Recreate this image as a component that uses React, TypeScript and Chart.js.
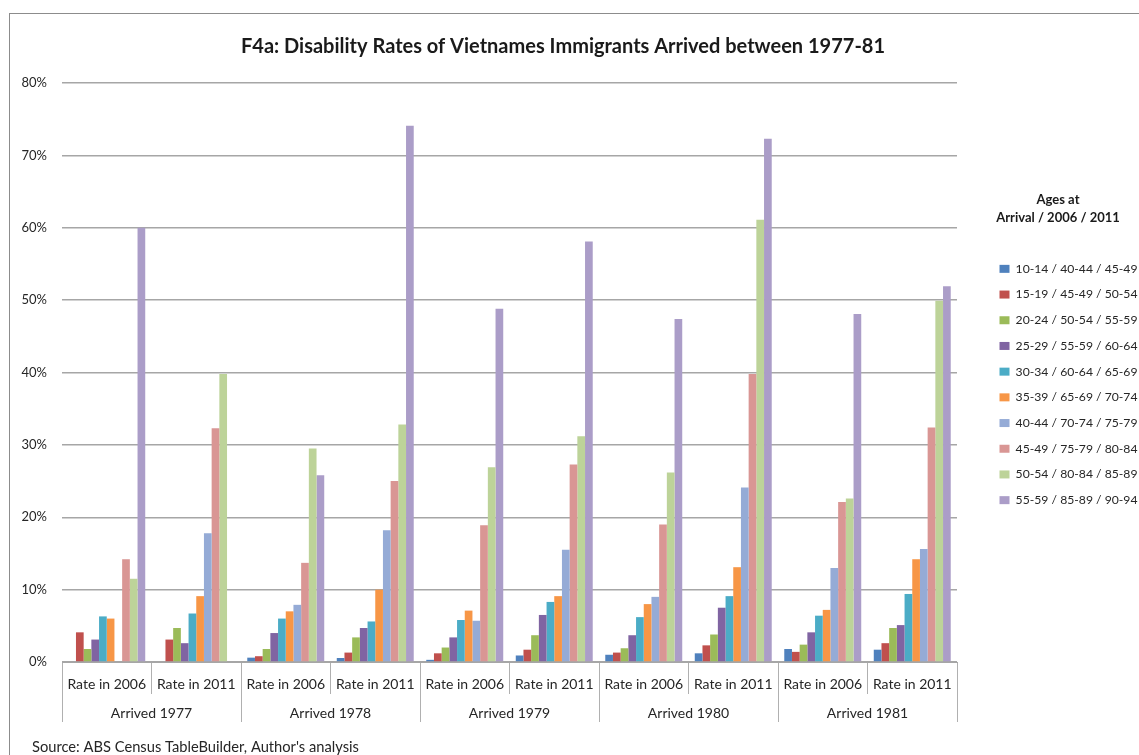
import { useEffect, useRef } from 'react';
import { Chart, registerables } from 'chart.js';

Chart.register(...registerables);
const FONT = 'Lato, "Liberation Sans", sans-serif';
Chart.defaults.font.family = FONT;
Chart.defaults.color = '#262626';

const chartTitle = 'F4a: Disability Rates of Vietnames Immigrants Arrived between 1977-81';
const legendTitle = ['Ages at', 'Arrival / 2006 / 2011'];
const sourceNote = "Source: ABS Census TableBuilder, Author's analysis";

const rateLabels = [
  'Rate in 2006', 'Rate in 2011',
  'Rate in 2006', 'Rate in 2011',
  'Rate in 2006', 'Rate in 2011',
  'Rate in 2006', 'Rate in 2011',
  'Rate in 2006', 'Rate in 2011',
];
const arrivalGroups = ['Arrived 1977', 'Arrived 1978', 'Arrived 1979', 'Arrived 1980', 'Arrived 1981'];

const ageGroups = [
  '10-14 / 40-44 / 45-49',
  '15-19 / 45-49 / 50-54',
  '20-24 / 50-54 / 55-59',
  '25-29 / 55-59 / 60-64',
  '30-34 / 60-64 / 65-69',
  '35-39 / 65-69 / 70-74',
  '40-44 / 70-74 / 75-79',
  '45-49 / 75-79 / 80-84',
  '50-54 / 80-84 / 85-89',
  '55-59 / 85-89 / 90-94',
];

// Disability rate (%) per category (1977 2006, 1977 2011, 1978 2006, ...)
const age10to14 = [0, 0, 0.6, 0.55, 0.3, 0.9, 1.0, 1.2, 1.8, 1.7];
const age15to19 = [4.1, 3.1, 0.8, 1.3, 1.2, 1.7, 1.3, 2.3, 1.4, 2.6];
const age20to24 = [1.8, 4.7, 1.8, 3.4, 2.0, 3.7, 1.9, 3.8, 2.4, 4.7];
const age25to29 = [3.1, 2.6, 4.0, 4.7, 3.4, 6.5, 3.7, 7.5, 4.1, 5.1];
const age30to34 = [6.3, 6.7, 6.0, 5.6, 5.8, 8.3, 6.2, 9.1, 6.4, 9.4];
const age35to39 = [6.0, 9.1, 7.0, 10.0, 7.1, 9.1, 8.0, 13.1, 7.2, 14.2];
const age40to44 = [0, 17.8, 7.9, 18.2, 5.7, 15.5, 9.0, 24.1, 13.0, 15.6];
const age45to49 = [14.2, 32.3, 13.7, 25.0, 18.9, 27.3, 19.0, 39.8, 22.1, 32.4];
const age50to54 = [11.5, 39.8, 29.5, 32.8, 26.9, 31.2, 26.2, 61.1, 22.6, 49.9];
const age55to59 = [60.0, 0, 25.8, 74.1, 48.8, 58.1, 47.4, 72.3, 48.1, 51.9];

const seriesValues = [
  age10to14, age15to19, age20to24, age25to29, age30to34,
  age35to39, age40to44, age45to49, age50to54, age55to59,
];

const seriesColors = [
  '#4F81BD', '#C0504D', '#9BBB59', '#8064A2', '#4BACC6',
  '#F79646', '#95ABD6', '#D99694', '#BDD399', '#AB9DC8',
];

const yMin = 0;
const yMax = 80;
const yStep = 10;

const textPlugin = {
  id: 'chartTexts',
  afterDraw(chart: any) {
    const ctx = chart.ctx;
    ctx.save();
    // main title
    ctx.font = `bold 20px ${FONT}`;
    ctx.fillStyle = '#1a1a1a';
    ctx.textAlign = 'center';
    ctx.textBaseline = 'middle';
    ctx.fillText(chartTitle, 553, 33);
    // legend title
    ctx.font = `bold 13px ${FONT}`;
    ctx.fillText(legendTitle[0], 1048, 186);
    ctx.fillText(legendTitle[1], 1048, 204);
    // source note
    ctx.font = `14.7px ${FONT}`;
    ctx.fillStyle = '#262626';
    ctx.textAlign = 'left';
    ctx.fillText(sourceNote, 22, chart.height - 8);
    ctx.restore();
  },
};

export default function App() {
  const canvasRef = useRef<HTMLCanvasElement | null>(null);

  useEffect(() => {
    if (!canvasRef.current) return;
    const chart = new Chart(canvasRef.current, {
      type: 'bar',
      data: {
        labels: rateLabels,
        datasets: seriesValues.map((values, i) => ({
          label: ageGroups[i],
          data: values,
          backgroundColor: seriesColors[i],
          borderWidth: 0,
          barPercentage: 1,
          categoryPercentage: 0.86,
        })),
      },
      options: {
        animation: false,
        responsive: true,
        maintainAspectRatio: false,
        layout: { padding: { top: 69, left: 0, right: 0, bottom: 33 } },
        plugins: {
          tooltip: { enabled: false },
          title: { display: false },
          legend: {
            display: true,
            position: 'right',
            align: 'start',
            maxWidth: 154,
            title: {
              display: true,
              text: ' ',
              font: { size: 13, lineHeight: 1.2 },
              padding: { top: 0, bottom: 150.65 },
            },
            labels: {
              boxWidth: 10,
              boxHeight: 8,
              padding: 13.5,
              color: '#262626',
              font: { size: 12.2 },
            },
          },
        },
        scales: {
          x: {
            type: 'category',
            offset: true,
            grid: {
              offset: true,
              drawOnChartArea: false,
              drawTicks: true,
              tickLength: 32,
              color: '#b0b0b0',
            },
            border: { display: true, color: '#a6a6a6' },
            ticks: {
              autoSkip: false,
              maxRotation: 0,
              padding: -18.4,
              font: { size: 14 },
              color: '#262626',
            },
            afterFit: (s: any) => { s.height = 32; },
          },
          x2: {
            type: 'category',
            position: 'bottom',
            labels: arrivalGroups,
            offset: true,
            grid: {
              offset: true,
              drawOnChartArea: false,
              drawTicks: true,
              tickLength: 28,
              color: '#b0b0b0',
            },
            border: { display: false },
            ticks: {
              autoSkip: false,
              maxRotation: 0,
              padding: -17.4,
              font: { size: 14 },
              color: '#262626',
            },
            afterFit: (s: any) => { s.height = 28; },
          },
          y: {
            type: 'linear',
            min: yMin,
            max: yMax,
            grid: { color: '#a6a6a6', lineWidth: 1.5, drawTicks: false },
            border: { display: false },
            ticks: {
              stepSize: yStep,
              padding: 15,
              font: { size: 13 },
              color: '#262626',
              callback: (v: any) => `${v}%`,
            },
            afterFit: (s: any) => { s.width = 52; },
          },
          gap: {
            type: 'linear',
            position: 'right',
            display: true,
            grid: { display: false, drawTicks: false },
            border: { display: false },
            ticks: { display: false },
            afterFit: (s: any) => { s.width = 29; },
          },
        },
      },
      plugins: [textPlugin],
    } as any);
    return () => chart.destroy();
  }, []);

  return (
    <div
      style={{
        position: 'fixed',
        left: 9,
        top: 13,
        width: 1130,
        height: 742,
        borderLeft: '1px solid #8c8c8c',
        borderTop: '1px solid #8c8c8c',
        boxSizing: 'border-box',
        overflow: 'hidden',
        background: '#fff',
      }}
    >
      <div style={{ position: 'relative', width: 1130, height: 741 }}>
        <canvas ref={canvasRef} />
      </div>
    </div>
  );
}
